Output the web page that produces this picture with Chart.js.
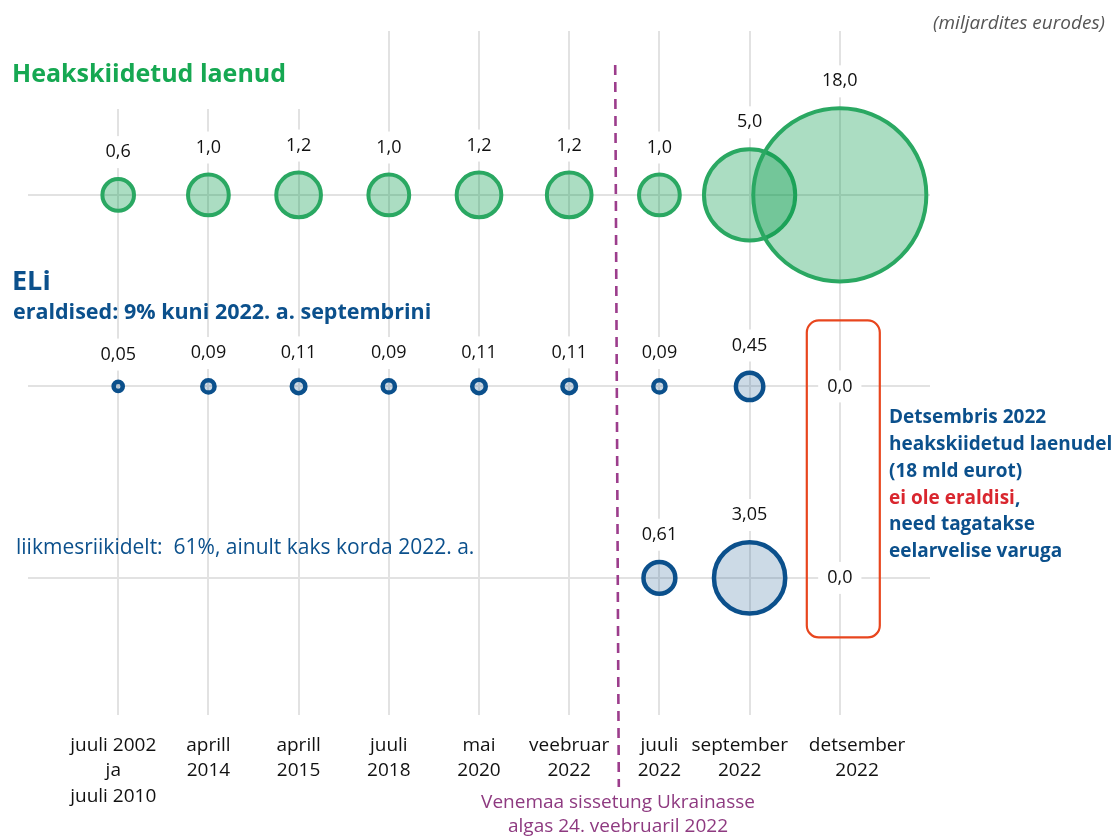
<!DOCTYPE html>
<html>
<head>
<meta charset="utf-8">
<script src="https://cdn.jsdelivr.net/npm/chart.js@4.4.0/dist/chart.umd.min.js"></script>
<style>
  html, body { margin: 0; padding: 0; background: #fff; }
  #wrap { width: 1118px; height: 837px; }
</style>
</head>
<body>
<div id="wrap"><canvas id="chart" width="1118" height="837"></canvas></div>
<script>
// miljardites eurodes
const periods = [
    ['juuli 2002', 'ja', 'juuli 2010'],
    ['aprill', '2014'],
    ['aprill', '2015'],
    ['juuli', '2018'],
    ['mai', '2020'],
    ['veebruar', '2022'],
    ['juuli', '2022'],
    ['september', '2022'],
    ['detsember', '2022']
];
const approvedLoans = [0.6, 1.0, 1.2, 1.0, 1.2, 1.2, 1.0, 5.0, 18.0];
const euProvisions = [0.05, 0.09, 0.11, 0.09, 0.11, 0.11, 0.09, 0.45, 0.0];
const memberProvisions = [null, null, null, null, null, null, 0.61, 3.05, 0.0];

const FONT = '"Open Sans", "Noto Sans", sans-serif';
const GREEN = '#2aa862';
const BLUE = '#0b508c';

function toPoints(values, row) {
    return values
        .map((v, i) => (v === null ? null : { x: i, y: row, v: v }))
        .filter(p => p !== null);
}

const radiusOf = ctx => 20.4 * Math.sqrt(ctx.raw.v);

// the last two labels sit a bit off their gridline so they don't run together
function tickLabel(i) {
    const lines = periods[i];
    if (i === 0) return lines.map(s => s + '  ');
    if (i === 7) return lines.map(s => s + '    ');
    if (i === 8) return lines.map(s => '       ' + s);
    return lines;
}

function maskedText(ctx, text, x, y, font, color, padX = 9, h = 32) {
    ctx.font = font;
    const w = ctx.measureText(text).width;
    ctx.fillStyle = '#fff';
    ctx.fillRect(x - w / 2 - padX, y - h / 2, w + padX * 2, h);
    ctx.fillStyle = color;
    ctx.textAlign = 'center';
    ctx.textBaseline = 'middle';
    ctx.fillText(text, x, y);
}

const overlay = {
    id: 'overlay',
    afterDatasetsDraw(chart) {
        const { ctx, scales: { x, y } } = chart;
        ctx.save();

        // white box behind the main title
        ctx.fillStyle = '#fff';
        ctx.fillRect(0, 31, 312, 78);

        // value labels
        chart.data.datasets.forEach((ds, di) => {
            chart.getDatasetMeta(di).data.forEach((el, i) => {
                const v = ds.data[i].v;
                const text = v === 0 ? '0,0' : v.toFixed(ds.decimals).replace('.', ',');
                const r = el.options.radius + el.options.borderWidth / 2;
                const ty = v === 0 ? el.y : el.y - r - 25;
                maskedText(ctx, text, el.x, ty, '18px ' + FONT, '#111');
            });
        });

        // Ukraine invasion marker
        ctx.strokeStyle = '#9c3d8c';
        ctx.lineWidth = 2.6;
        ctx.setLineDash([10, 7]);
        ctx.beginPath();
        ctx.moveTo(x.getPixelForValue(5.51), 65);
        ctx.lineTo(x.getPixelForValue(5.55), 787);
        ctx.stroke();
        ctx.setLineDash([]);

        // red frame round the December column
        const cx = x.getPixelForValue(8);
        ctx.strokeStyle = '#e8461e';
        ctx.lineWidth = 2.2;
        ctx.beginPath();
        ctx.roundRect(cx - 33, y.getPixelForValue(2) - 66, 73, 317, 12);
        ctx.stroke();

        // texts
        ctx.textBaseline = 'middle';
        ctx.textAlign = 'left';
        ctx.fillStyle = '#16a852';
        ctx.font = 'bold 25px ' + FONT;
        ctx.fillText('Heakskiidetud laenud', 12, 75);

        ctx.fillStyle = BLUE;
        ctx.font = 'bold 27px ' + FONT;
        ctx.fillText('ELi', 12, 282);
        ctx.font = 'bold 21.5px ' + FONT;
        ctx.fillText('eraldised: 9% kuni 2022. a. septembrini', 13, 313);
        ctx.font = '21px ' + FONT;
        ctx.fillText('liikmesriikidelt:  61%, ainult kaks korda 2022. a.', 16, 548);

        const note = ['Detsembris 2022', 'heakskiidetud laenudel', '(18 mld eurot)', null, 'need tagatakse', 'eelarvelise varuga'];
        ctx.font = 'bold 19px ' + FONT;
        note.forEach((line, i) => {
            const ly = 418 + i * 26.7;
            if (line === null) {
                ctx.fillStyle = '#d9262e';
                ctx.fillText('ei ole eraldisi', 889, ly);
                const w = ctx.measureText('ei ole eraldisi').width;
                ctx.fillStyle = BLUE;
                ctx.fillText(',', 889 + w, ly);
            } else {
                ctx.fillStyle = BLUE;
                ctx.fillText(line, 889, ly);
            }
        });

        ctx.fillStyle = '#555';
        ctx.font = 'italic 19px ' + FONT;
        ctx.textAlign = 'right';
        ctx.fillText('(miljardites eurodes)', 1105, 24);

        ctx.fillStyle = '#8e3a80';
        ctx.font = '19px ' + FONT;
        ctx.textAlign = 'center';
        ctx.fillText('Venemaa sissetung Ukrainasse', 618, 803);
        ctx.fillText('algas 24. veebruaril 2022', 618, 827);

        ctx.restore();
    }
};

new Chart(document.getElementById('chart'), {
    type: 'bubble',
    data: {
        datasets: [
            {
                label: 'Heakskiidetud laenud',
                data: toPoints(approvedLoans, 3),
                decimals: 1,
                backgroundColor: 'rgba(0, 152, 70, 0.33)',
                borderColor: GREEN,
                borderWidth: 4
            },
            {
                label: 'ELi eraldised',
                data: toPoints(euProvisions, 2),
                decimals: 2,
                backgroundColor: 'rgba(40, 100, 150, 0.24)',
                borderColor: BLUE,
                borderWidth: 4.5
            },
            {
                label: 'Liikmesriikide eraldised',
                data: toPoints(memberProvisions, 1),
                decimals: 2,
                backgroundColor: 'rgba(40, 100, 150, 0.24)',
                borderColor: BLUE,
                borderWidth: 4.5
            }
        ]
    },
    options: {
        responsive: false,
        animation: false,
        devicePixelRatio: 1,
        clip: false,
        layout: { autoPadding: false, padding: { top: 31, left: 28, right: 188, bottom: 0 } },
        elements: { point: { radius: radiusOf, hoverRadius: radiusOf } },
        plugins: { legend: { display: false }, tooltip: { enabled: false } },
        scales: {
            x: {
                type: 'linear',
                min: -1,
                max: 9,
                afterBuildTicks: scale => { scale.ticks = periods.map((_, i) => ({ value: i })); },
                afterFit: scale => { scale.height = 122; },
                border: { display: false },
                grid: { color: '#e2e2e2', lineWidth: 2, drawTicks: false },
                ticks: {
                    autoSkip: false,
                    maxRotation: 0,
                    padding: 18,
                    color: '#111',
                    font: { family: FONT, size: 19, lineHeight: 1.33 },
                    callback: value => tickLabel(value)
                }
            },
            y: {
                min: 0.284,
                max: 3.856,
                afterBuildTicks: scale => { scale.ticks = [1, 2, 3].map(v => ({ value: v })); },
                afterFit: scale => { scale.width = 0; },
                border: { display: false },
                grid: { color: '#e2e2e2', lineWidth: 2, drawTicks: false },
                ticks: { display: false }
            }
        }
    },
    plugins: [overlay]
});
</script>
</body>
</html>
